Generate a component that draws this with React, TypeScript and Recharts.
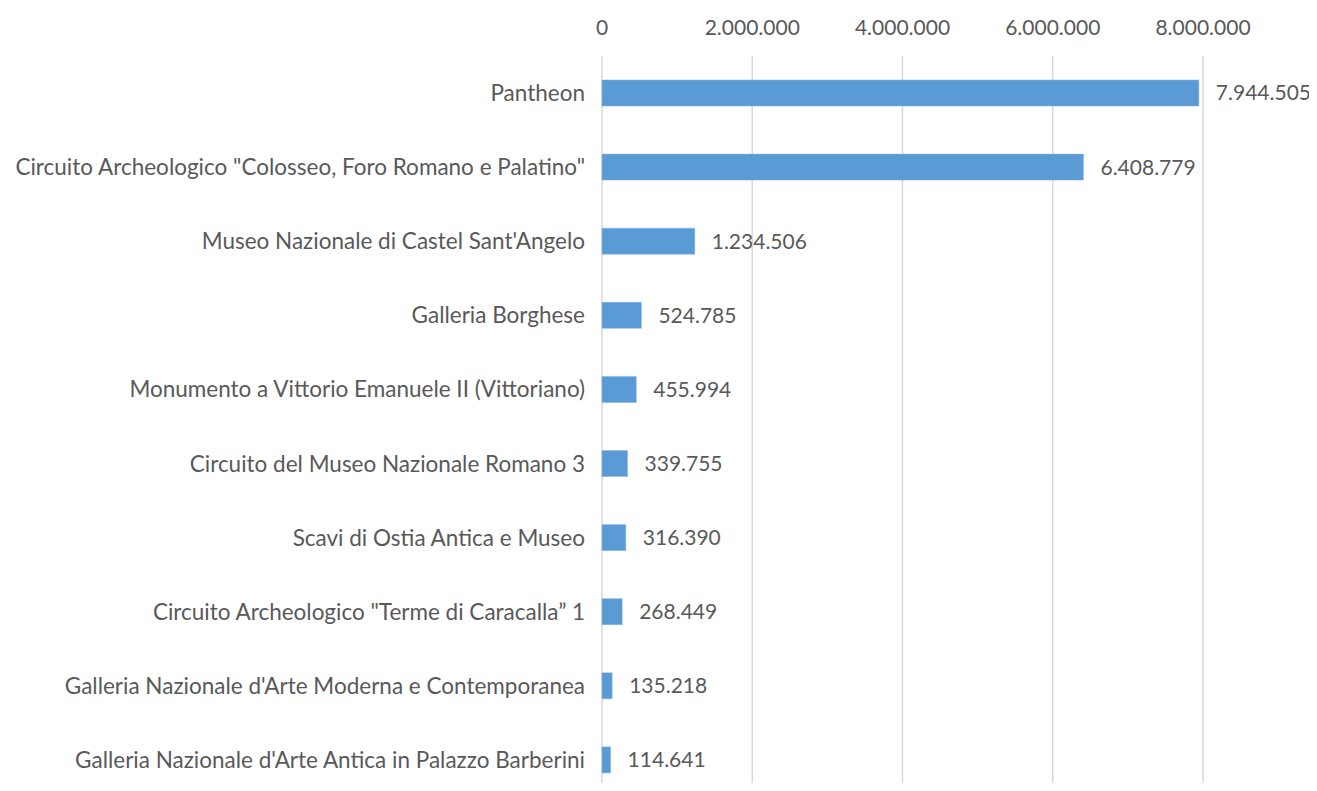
import { BarChart, Bar, XAxis, YAxis, CartesianGrid, LabelList } from 'recharts'

const sites = [
  'Pantheon',
  'Circuito Archeologico "Colosseo, Foro Romano e Palatino"',
  "Museo Nazionale di Castel Sant'Angelo",
  'Galleria Borghese',
  'Monumento a Vittorio Emanuele II (Vittoriano)',
  'Circuito del Museo Nazionale Romano 3',
  'Scavi di Ostia Antica e Museo',
  'Circuito Archeologico "Terme di Caracalla\u201d 1',
  "Galleria Nazionale d'Arte Moderna e Contemporanea",
  "Galleria Nazionale d'Arte Antica in Palazzo Barberini",
]

const visitors = [7944505, 6408779, 1234506, 524785, 455994, 339755, 316390, 268449, 135218, 114641]

const xTicks = [0, 2000000, 4000000, 6000000, 8000000]

const data = sites.map((name, i) => ({ name, value: visitors[i] }))

const fmt = (v: number) => String(v).replace(/\B(?=(\d{3})+(?!\d))/g, '.')

const FONT = 'Lato, "Open Sans", sans-serif'
const GREY = '#595959'

export default function App() {
  return (
    <div style={{ width: 1317, height: 791, overflow: 'hidden', margin: -8, background: '#fff' }}>
      <BarChart
        width={1317}
        height={800}
        data={data}
        layout="vertical"
        margin={{ top: 0, right: 114, bottom: 3, left: 0 }}
      >
        <CartesianGrid horizontal={false} stroke="#d9d9d9" strokeWidth={1.5} />
        <XAxis
          type="number"
          orientation="top"
          domain={[0, 8000000]}
          ticks={xTicks}
          tickFormatter={fmt}
          axisLine={false}
          tickLine={false}
          tickMargin={15}
          height={56}
          tick={{ fontFamily: FONT, fontSize: 21, fill: GREY }}
          interval={0}
        />
        <YAxis
          type="category"
          dataKey="name"
          width={602}
          axisLine={false}
          tickLine={false}
          tickMargin={11}
          tick={{ fontFamily: FONT, fontSize: 22.5, fill: GREY }}
          interval={0}
        />
        <Bar dataKey="value" fill="#5b9bd5" stroke="#7fb2e0" strokeWidth={0.5} barSize={26} isAnimationActive={false}>
          <LabelList
            dataKey="value"
            position="right"
            offset={17}
            formatter={(v: any) => fmt(Number(v))}
            style={{ fontFamily: FONT, fontSize: 21, fill: GREY }}
          />
        </Bar>
      </BarChart>
    </div>
  )
}
